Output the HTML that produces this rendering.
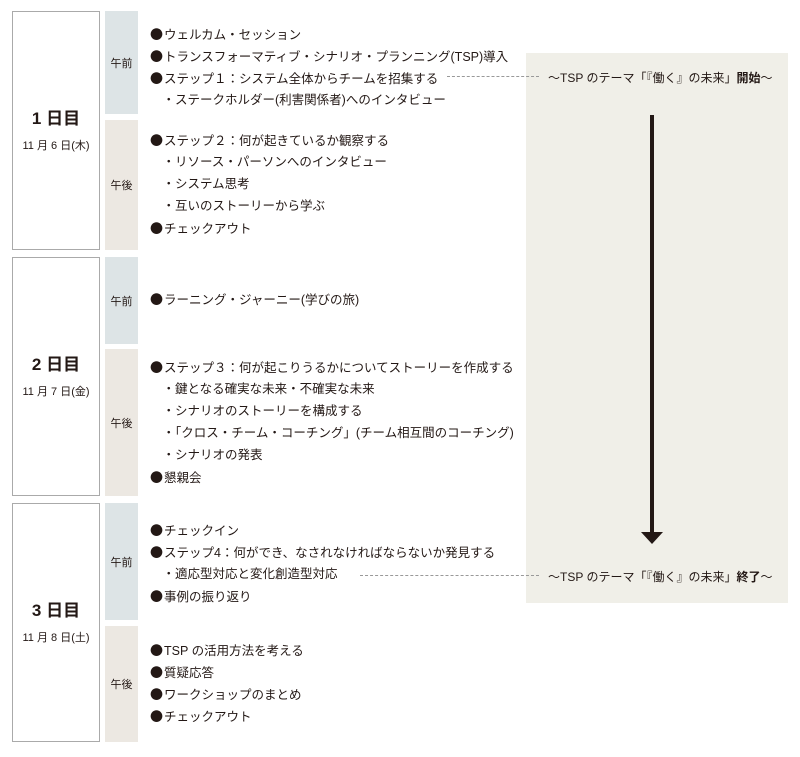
<!DOCTYPE html>
<html><head><meta charset="utf-8"><style>
body{margin:0;width:800px;height:757px;background:#fff;position:relative;font-family:"Liberation Sans","Noto Sans CJK JP",sans-serif;color:#231815;overflow:hidden}
.a{position:absolute}
.day{position:absolute;left:12px;width:86px;border:1px solid #aaa;background:#fff;text-align:center}
.day b{display:block;font-size:17px;font-weight:bold}
.day span{display:block;font-size:11px;margin-top:8px}
.s{position:absolute;left:105px;width:33px;font-size:11px;display:flex;align-items:center;justify-content:center}
.am{background:#dde4e6}.pm{background:#ece8e2}
.t{position:absolute;left:150px;font-size:12.5px;line-height:14px;white-space:nowrap}
.t i{font-style:normal;font-family:"Noto Sans CJK JP",sans-serif;font-size:13px;margin-right:1px}
.dash{position:absolute;border-top:1px dashed #999;height:0}
.p{position:absolute;left:548px;font-size:12px;white-space:nowrap}
</style></head><body>
<div class="a" style="left:526px;top:53px;width:262px;height:550px;background:#f0efe8"></div>
<div class="a" style="left:650px;top:115px;width:4px;height:419px;background:#231815"></div>
<div class="a" style="left:641px;top:532px;width:0;height:0;border-left:11px solid transparent;border-right:11px solid transparent;border-top:12px solid #231815"></div>

<div class="day" style="top:11px;height:237px"><div style="margin-top:92px"><b>1 日目</b><span>11 月 6 日(木)</span></div></div>
<div class="day" style="top:257px;height:237px"><div style="margin-top:92px"><b>2 日目</b><span>11 月 7 日(金)</span></div></div>
<div class="day" style="top:503px;height:237px"><div style="margin-top:92px"><b>3 日目</b><span>11 月 8 日(土)</span></div></div>

<div class="s am" style="top:11px;height:103px">午前</div>
<div class="s pm" style="top:120px;height:130px">午後</div>
<div class="s am" style="top:257px;height:87px">午前</div>
<div class="s pm" style="top:349px;height:147px">午後</div>
<div class="s am" style="top:503px;height:117px">午前</div>
<div class="s pm" style="top:626px;height:116px">午後</div>

<div class="t" style="top:27px"><i>●</i>ウェルカム・セッション</div>
<div class="t" style="top:49px"><i>●</i>トランスフォーマティブ・シナリオ・プランニング(TSP)導入</div>
<div class="t" style="top:71px"><i>●</i>ステップ１：システム全体からチームを招集する</div>
<div class="t" style="top:93px">　・ステークホルダー(利害関係者)へのインタビュー</div>
<div class="t" style="top:133px"><i>●</i>ステップ２：何が起きているか観察する</div>
<div class="t" style="top:155px">　・リソース・パーソンへのインタビュー</div>
<div class="t" style="top:177px">　・システム思考</div>
<div class="t" style="top:199px">　・互いのストーリーから学ぶ</div>
<div class="t" style="top:221px"><i>●</i>チェックアウト</div>

<div class="t" style="top:292px"><i>●</i>ラーニング・ジャーニー(学びの旅)</div>
<div class="t" style="top:360px"><i>●</i>ステップ３：何が起こりうるかについてストーリーを作成する</div>
<div class="t" style="top:382px">　・鍵となる確実な未来・不確実な未来</div>
<div class="t" style="top:404px">　・シナリオのストーリーを構成する</div>
<div class="t" style="top:426px">　・「クロス・チーム・コーチング」(チーム相互間のコーチング)</div>
<div class="t" style="top:448px">　・シナリオの発表</div>
<div class="t" style="top:470px"><i>●</i>懇親会</div>

<div class="t" style="top:523px"><i>●</i>チェックイン</div>
<div class="t" style="top:545px"><i>●</i>ステップ4：何ができ、なされなければならないか発見する</div>
<div class="t" style="top:567px">　・適応型対応と変化創造型対応</div>
<div class="t" style="top:589px"><i>●</i>事例の振り返り</div>
<div class="t" style="top:643px"><i>●</i>TSP の活用方法を考える</div>
<div class="t" style="top:665px"><i>●</i>質疑応答</div>
<div class="t" style="top:687px"><i>●</i>ワークショップのまとめ</div>
<div class="t" style="top:709px"><i>●</i>チェックアウト</div>

<div class="dash" style="left:447px;top:76px;width:92px"></div>
<div class="dash" style="left:360px;top:575px;width:179px"></div>
<div class="p" style="top:69px">～TSP のテーマ「『働く』の未来」<b>開始</b>～</div>
<div class="p" style="top:568px">～TSP のテーマ「『働く』の未来」<b>終了</b>～</div>
</body></html>
